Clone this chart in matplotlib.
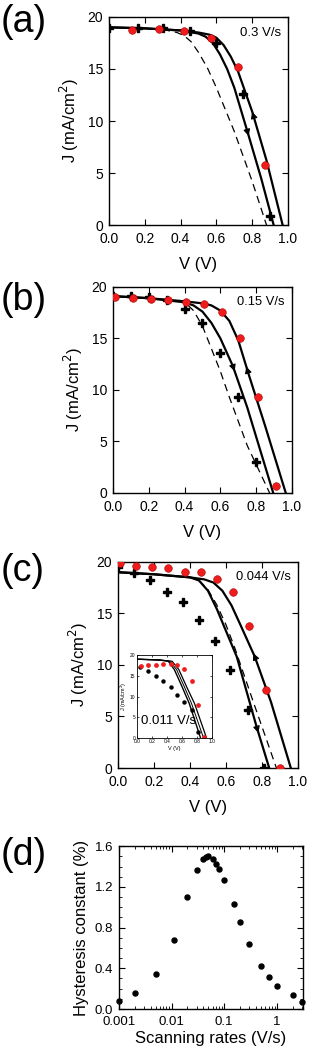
import numpy as np
import matplotlib
matplotlib.use("Agg")
import matplotlib.pyplot as plt

plt.rcParams['font.family'] = ['Liberation Sans', 'DejaVu Sans']

# ---------- panel (a) 0.3 V/s ----------
a_rev_v = [0.13, 0.28, 0.42, 0.57, 0.72, 0.87]
a_rev_j = [18.7, 18.8, 18.6, 18.0, 15.2, 5.8]
a_fwd_v = [0.0, 0.16, 0.30, 0.45, 0.60, 0.75, 0.90]
a_fwd_j = [18.9, 18.9, 18.9, 18.6, 17.5, 12.6, 0.9]
a_out_v = [0, 0.2, 0.4, 0.5, 0.56, 0.6, 0.64, 0.68, 0.72, 0.8, 0.88, 0.97]
a_out_j = [19.0, 18.9, 18.7, 18.5, 18.3, 18.0, 17.3, 16.2, 14.8, 10.9, 6.2, 0]
a_in_v = [0, 0.2, 0.4, 0.5, 0.54, 0.58, 0.62, 0.66, 0.7, 0.78, 0.85, 0.92]
a_in_j = [19.0, 18.9, 18.7, 18.4, 18.1, 17.5, 16.4, 15.0, 13.2, 8.6, 4.5, 0]
a_dash_v = [0.3, 0.38, 0.42, 0.46, 0.5, 0.55, 0.6, 0.7, 0.8, 0.88]
a_dash_j = [18.8, 18.5, 18.2, 17.6, 16.6, 15.1, 13.2, 9.0, 4.2, 0]

# ---------- panel (b) 0.15 V/s ----------
b_rev_v = [0.01, 0.11, 0.21, 0.31, 0.41, 0.51, 0.61, 0.71, 0.81, 0.91]
b_rev_j = [19.0, 18.9, 18.8, 18.7, 18.5, 18.3, 17.6, 15.0, 9.3, 0.7]
b_fwd_v = [0.0, 0.10, 0.20, 0.30, 0.40, 0.50, 0.60, 0.70, 0.80]
b_fwd_j = [19.1, 19.1, 19.0, 18.7, 17.9, 16.5, 13.6, 9.3, 3.0]
b_out_v = [0, 0.2, 0.4, 0.5, 0.55, 0.6, 0.65, 0.7, 0.76, 0.85, 0.965]
b_out_j = [19.1, 18.9, 18.6, 18.4, 18.2, 17.7, 16.7, 14.8, 11.4, 6.5, 0]
b_in_v = [0, 0.2, 0.4, 0.45, 0.5, 0.55, 0.6, 0.67, 0.75, 0.895]
b_in_j = [19.1, 18.9, 18.5, 18.2, 17.6, 16.5, 15.0, 12.3, 8.3, 0]
b_dash_v = [0.42, 0.45, 0.5, 0.55, 0.6, 0.65, 0.75, 0.875]
b_dash_j = [18.2, 17.7, 16.2, 14.0, 11.8, 9.3, 4.6, 0]

# ---------- panel (c) 0.044 V/s ----------
c_rev_v = [0.01, 0.10, 0.19, 0.28, 0.37, 0.46, 0.55, 0.64, 0.73, 0.82, 0.90]
c_rev_j = [19.9, 19.6, 19.5, 19.4, 19.0, 19.0, 18.3, 17.1, 13.8, 7.6, 0.0]
c_fwd_v = [0.0, 0.09, 0.18, 0.27, 0.36, 0.45, 0.54, 0.62, 0.72, 0.81]
c_fwd_j = [19.5, 18.9, 18.2, 17.1, 16.1, 14.4, 12.3, 9.5, 5.6, 0.0]
c_out_v = [0, 0.2, 0.4, 0.48, 0.53, 0.58, 0.63, 0.68, 0.76, 0.85, 0.96]
c_out_j = [19.0, 18.8, 18.5, 18.3, 18.0, 17.2, 15.8, 13.9, 10.8, 6.4, 0]
c_in_v = [0, 0.2, 0.4, 0.45, 0.5, 0.55, 0.6, 0.66, 0.77, 0.84]
c_in_j = [19.0, 18.8, 18.5, 18.2, 17.2, 15.4, 13.3, 10.8, 4.0, 0]
c_dash_v = [0.45, 0.5, 0.55, 0.6, 0.65, 0.75, 0.88]
c_dash_j = [18.2, 17.3, 15.8, 13.9, 11.6, 6.5, 0]

# inset 0.011 V/s
i_rev_v = [0.05, 0.15, 0.25, 0.35, 0.45, 0.53, 0.63, 0.73, 0.82, 0.90]
i_rev_j = [17.4, 17.5, 17.7, 17.8, 17.8, 17.5, 16.6, 13.8, 8.0, 0.2]
i_fwd_v = [0.04, 0.15, 0.25, 0.35, 0.45, 0.54, 0.63, 0.73, 0.82]
i_fwd_j = [17.0, 16.2, 15.0, 13.8, 12.4, 10.4, 8.6, 6.8, 1.4]
i_l1_v = [0, 0.3, 0.42, 0.5, 0.6, 0.7, 0.85]
i_l1_j = [19.0, 18.8, 18.5, 16.5, 12.5, 8.3, 0]
i_l2_v = [0, 0.3, 0.44, 0.53, 0.63, 0.73, 0.89]
i_l2_j = [19.0, 18.8, 18.5, 16.5, 12.5, 8.3, 0]
i_l3_v = [0, 0.3, 0.47, 0.56, 0.66, 0.77, 0.93]
i_l3_j = [19.0, 18.8, 18.5, 16.5, 12.5, 8.3, 0]

# ---------- panel (d) ----------
rates = [0.001, 0.002, 0.005, 0.011, 0.02, 0.03, 0.04, 0.045, 0.05, 0.06,
         0.07, 0.08, 0.1, 0.15, 0.2, 0.3, 0.5, 0.7, 1.0, 2.0, 3.0]
hyst = [0.08, 0.155, 0.34, 0.68, 1.10, 1.365, 1.47, 1.49, 1.50, 1.475,
        1.43, 1.38, 1.267, 1.03, 0.857, 0.64, 0.425, 0.317, 0.23, 0.137, 0.065]


def style(ax, fs=10):
    ax.tick_params(direction='in', top=True, right=True, labelsize=fs,
                   length=4, width=0.8)
    ax.tick_params(axis='x', pad=5)
    ax.tick_params(axis='y', pad=4)
    for s in ax.spines.values():
        s.set_linewidth(1.0)


def jv_panel(ax, rv, rj, fv, fj, ov, oj, iv, ij, dv, dj, up, down, rate, rate_fs):
    ax.plot(ov, oj, color='black', lw=1.6, zorder=2)
    ax.plot(iv, ij, color='black', lw=1.6, zorder=2)
    ax.plot(dv, dj, color='black', lw=0.9, ls=(0, (6, 4)), zorder=2)
    ax.plot(fv, fj, ls='none', marker='P', ms=6, color='black', zorder=3)
    ax.plot(rv, rj, ls='none', marker='o', ms=5.5, color='#ee1c1c',
            markeredgecolor='#b00000', markeredgewidth=0.4, zorder=4)
    # arrows on the curves
    for (cv, cj, v0, sgn) in [(ov, oj, up, 1), (iv, ij, down, -1)]:
        j0 = np.interp(v0, cv, cj)
        j1 = np.interp(v0 - sgn * 0.015, cv, cj)
        ax.annotate('', xy=(v0 - sgn * 0.015, j1), xytext=(v0, j0),
                    arrowprops=dict(arrowstyle='-|>', color='black',
                                    lw=0.8, mutation_scale=10), zorder=5)
    ax.set_xlim(0, 1)
    ax.set_ylim(0, 20)
    ax.set_xticks(np.arange(0, 1.01, 0.2))
    ax.set_xticklabels(['0.0', '0.2', '0.4', '0.6', '0.8', '1.0'])
    ax.set_yticks([0, 5, 10, 15, 20])
    ax.set_xlabel('V (V)', fontsize=12, labelpad=8)
    ax.set_ylabel('J (mA/cm$^2$)', fontsize=12, labelpad=5)
    ax.text(0.96, 0.925, rate, transform=ax.transAxes, ha='right', va='center',
            fontsize=rate_fs)
    style(ax)


fig = plt.figure(figsize=(3.33, 10.57), dpi=100)

ax_a = fig.add_axes([0.327, 0.787, 0.538, 0.197])
jv_panel(ax_a, a_rev_v, a_rev_j, a_fwd_v, a_fwd_j, a_out_v, a_out_j,
         a_in_v, a_in_j, a_dash_v, a_dash_j, 0.81, 0.77, '0.3 V/s', 9.5)

ax_b = fig.add_axes([0.339, 0.5336, 0.538, 0.195])
jv_panel(ax_b, b_rev_v, b_rev_j, b_fwd_v, b_fwd_j, b_out_v, b_out_j,
         b_in_v, b_in_j, b_dash_v, b_dash_j, 0.755, 0.67, '0.15 V/s', 9.3)

ax_c = fig.add_axes([0.354, 0.2734, 0.541, 0.195])
jv_panel(ax_c, c_rev_v, c_rev_j, c_fwd_v, c_fwd_j, c_out_v, c_out_j,
         c_in_v, c_in_j, c_dash_v, c_dash_j, 0.76, 0.77, '0.044 V/s', 9.3)

ax_i = fig.add_axes([0.411, 0.3018, 0.225, 0.0785])
ax_i.plot(i_l1_v, i_l1_j, color='black', lw=1.0)
ax_i.plot(i_l2_v, i_l2_j, color='black', lw=0.7)
ax_i.plot(i_l3_v, i_l3_j, color='black', lw=0.9)
ax_i.plot(i_fwd_v, i_fwd_j, ls='none', marker='o', ms=2.2, color='black')
ax_i.plot(i_rev_v, i_rev_j, ls='none', marker='o', ms=2.4, color='#ee1c1c')
ax_i.set_xlim(0, 1)
ax_i.set_ylim(0, 20)
ax_i.set_xticks(np.arange(0, 1.01, 0.2))
ax_i.set_xticklabels(['0.0', '0.2', '0.4', '0.6', '0.8', '1.0'])
ax_i.set_yticks([0, 5, 10, 15, 20])
ax_i.tick_params(direction='in', top=True, right=True, labelsize=3.5,
                 length=1.5, width=0.5, pad=1)
for s in ax_i.spines.values():
    s.set_linewidth(0.6)
ax_i.set_xlabel('V (V)', fontsize=4, labelpad=1.5)
ax_i.set_ylabel('J (mA/cm$^2$)', fontsize=4, labelpad=1)
ax_i.text(0.06, 0.2, '0.011 V/s', transform=ax_i.transAxes, fontsize=9.5,
          ha='left', va='center')

ax_d = fig.add_axes([0.357, 0.0454, 0.553, 0.154])
ax_d.plot(rates, hyst, ls='none', marker='o', ms=3.6, color='black', clip_on=False)
ax_d.set_xscale('log')
ax_d.set_xlim(0.001, 3.13)
ax_d.set_ylim(0, 1.6)
ax_d.set_xticks([0.001, 0.01, 0.1, 1])
ax_d.set_xticklabels(['0.001', '0.01', '0.1', '1'])
ax_d.set_yticks([0.0, 0.4, 0.8, 1.2, 1.6])
ax_d.set_yticklabels(['0.0', '0.4', '0.8', '1.2', '1.6'])
ax_d.set_yticks(np.arange(0, 1.61, 0.1), minor=True)
ax_d.tick_params(which='minor', direction='in', top=True, right=True,
                 length=2, width=0.6)
style(ax_d, fs=9.5)
ax_d.set_xlabel('Scanning rates (V/s)', fontsize=12, labelpad=2)
ax_d.set_ylabel('Hysteresis constant (%)', fontsize=12, labelpad=4)

for lab, y in [('(a)', 0.979), ('(b)', 0.716), ('(c)', 0.46), ('(d)', 0.191)]:
    fig.text(0.003, y, lab, fontsize=27, ha='left', va='center')

fig.savefig('out.png', dpi=100)
